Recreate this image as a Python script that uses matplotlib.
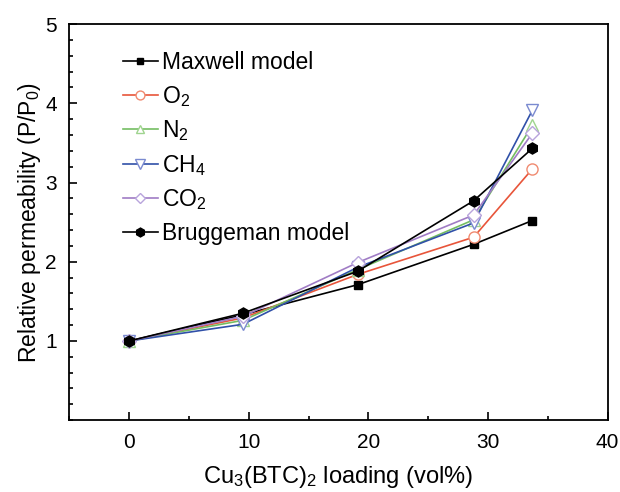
import matplotlib.pyplot as plt
from matplotlib.ticker import MultipleLocator

plt.rcParams['font.family'] = ['Liberation Sans', 'DejaVu Sans']
plt.rcParams['mathtext.fontset'] = 'custom'
plt.rcParams['mathtext.rm'] = 'Liberation Sans'
plt.rcParams['mathtext.it'] = 'Liberation Sans'

# loading (vol%)
loading = [0, 9.5, 19.1, 28.8, 33.7]

maxwell = [1.0, 1.33, 1.71, 2.22, 2.52]
o2 = [1.0, 1.29, 1.84, 2.31, 3.17]
n2 = [1.0, 1.26, 1.90, 2.53, 3.72]
ch4 = [1.0, 1.21, 1.93, 2.49, 3.91]
co2 = [1.0, 1.31, 1.99, 2.59, 3.62]
bruggeman = [1.0, 1.35, 1.88, 2.77, 3.43]

fig, ax = plt.subplots(figsize=(6.2, 4.92), dpi=100)

ax.plot(loading, maxwell, color='black', marker='s', ms=6, lw=1.2, label='Maxwell model')
ax.plot(loading, o2, color='#e8553a', marker='o', ms=8, mfc='white', mec='#f08a70', lw=1.2, label='O$_2$')
ax.plot(loading, n2, color='#74bd62', marker='^', ms=8, mfc='white', mec='#9fd48f', lw=1.2, label='N$_2$')
ax.plot(loading, ch4, color='#3050a8', marker='v', ms=9, mfc='white', mec='#7a8ad0', lw=1.2, label='CH$_4$')
ax.plot(loading, co2, color='#a07cc5', marker='D', ms=7, mfc='white', mec='#b8a4dc', lw=1.2, label='CO$_2$')
ax.plot(loading, bruggeman, color='black', marker='h', ms=8, lw=1.2, label='Bruggeman model')

ax.set_xlim(-5, 40)
ax.set_ylim(0, 5)
ax.xaxis.set_major_locator(MultipleLocator(10))
ax.xaxis.set_minor_locator(MultipleLocator(5))
ax.yaxis.set_major_locator(MultipleLocator(1))
ax.yaxis.set_minor_locator(MultipleLocator(0.2))
ax.set_yticks([1, 2, 3, 4, 5])
ax.tick_params(which='both', direction='in', labelsize=15, width=1.2)
ax.tick_params(which='major', length=6, pad=9)
ax.tick_params(which='minor', length=3)
for s in ax.spines.values():
    s.set_linewidth(1.3)

ax.set_xlabel('Cu$_3$(BTC)$_2$ loading (vol%)', fontsize=17, labelpad=9)
ax.set_ylabel('Relative permeability (P/P$_0$)', fontsize=16.5, labelpad=2)

ax.legend(loc='upper left', bbox_to_anchor=(0.083, 0.955), frameon=False, fontsize=16.5,
          handlelength=1.5, handletextpad=0.2, labelspacing=0.42, borderaxespad=0.0,
          markerscale=0.8)

fig.subplots_adjust(left=0.112, right=0.98, top=0.951, bottom=0.146)
fig.savefig('out.png', dpi=100)
